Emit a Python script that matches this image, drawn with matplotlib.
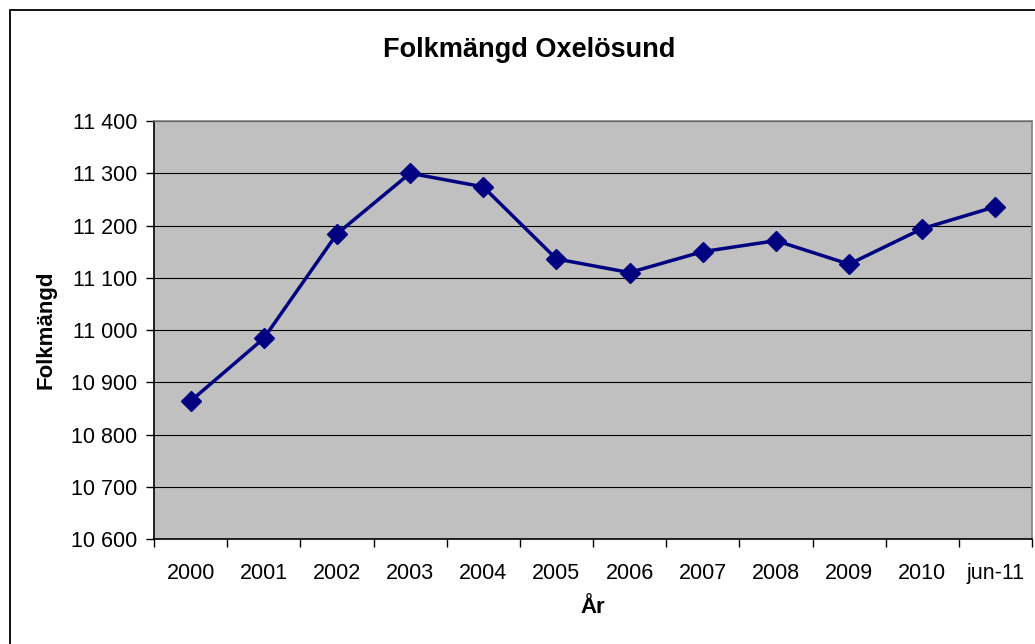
import numpy as np
import matplotlib.pyplot as plt
from matplotlib.patches import Rectangle
from matplotlib.ticker import FuncFormatter

plt.rcParams['font.family'] = ['Liberation Sans', 'DejaVu Sans']

# data
years = ["2000", "2001", "2002", "2003", "2004", "2005", "2006", "2007", "2008", "2009", "2010", "jun-11"]
population = [10864, 10984, 11184, 11300, 11274, 11136, 11110, 11150, 11171, 11126, 11194, 11236]

fig = plt.figure(figsize=(10.35, 6.44), dpi=100)
ax = fig.add_axes([0.1488, 0.1630, 0.8483, 0.6491])
ax.set_facecolor('#C0C0C0')

x = np.arange(len(years))
ax.plot(x, population, '-D', color='#000080', linewidth=2.5, markersize=10, zorder=3)

ax.set_xlim(-0.5, len(years) - 0.5)
ax.set_ylim(10600, 11400)
ax.set_yticks(np.arange(10600, 11401, 100))
ax.yaxis.set_major_formatter(FuncFormatter(lambda v, p: f"{int(v):,}".replace(",", " ")))
ax.grid(axis='y', color='black', linewidth=0.8, zorder=1)
ax.set_axisbelow(True)

# ticks between categories, labels in the middle
ax.set_xticks(np.arange(-0.5, len(years), 1))
ax.set_xticklabels([])
ax.set_xticks(x, minor=True)
ax.set_xticklabels(years, minor=True)
ax.tick_params(axis='x', which='major', direction='out', length=6, width=1)
ax.tick_params(axis='x', which='minor', length=0, pad=17, labelsize=15.5)
ax.tick_params(axis='y', direction='out', length=6, width=1, labelsize=15.5, pad=6)

ax.spines['left'].set_color('black')
ax.spines['bottom'].set_color('black')
ax.spines['top'].set_color('#808080')
ax.spines['right'].set_color('#808080')
for s in ax.spines.values():
    s.set_linewidth(1.2)

fig.text(0.511, 0.923, "Folkmängd Oxelösund", ha='center', va='center', fontsize=19.5, fontweight='bold')
fig.text(0.573, 0.056, "År", ha='center', va='center', fontsize=16, fontweight='bold')
fig.text(0.0445, 0.4876, "Folkmängd", ha='center', va='center', rotation=90, fontsize=16, fontweight='bold')

# outer chart border
fig.patches.append(Rectangle((9.5 / 1035, -0.05), 1.1, 1 - 10 / 644 + 0.05, transform=fig.transFigure,
                             fill=False, edgecolor='black', linewidth=1.3))

fig.savefig('out.png', dpi=100)
